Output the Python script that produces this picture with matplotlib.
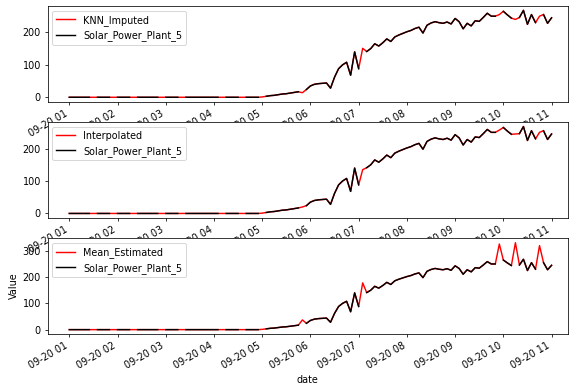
import numpy as np
import pandas as pd
import matplotlib
matplotlib.use("Agg")
import matplotlib.pyplot as plt
import matplotlib.dates as mdates

nan = np.nan

# 5-minute timestamps 09-20 01:00 .. 11:00
start_time = "2020-09-20 01:00"
n_points = 121

# Original series (NaN = missing)
original = [
    0, 0, 0, 0, 0, 0, nan, 0, 0, 0, 0, nan,            # 01:00-01:55
    0, 0, 0, 0, nan, 0, 0, 0, 0, 0, 0, nan,            # 02:00-02:55
    0, 0, 0, 0, nan, 0, 0, 0, 0, 0, 0, 0,              # 03:00-03:55
    0, 0, nan, 0, 0, 0, 0, nan, 0, 0, 0, 0,            # 04:00-04:55
    nan, 3, 5, 6, 8, 10, 11, 13, 15, 17, nan, 24,      # 05:00-05:55
    35, 40, 42, 43, 44, 28, 62, 88, 100, 108, 68, 140, # 06:00-06:55
    88, nan, 141, 150, 165, 158, 168, 180, 172, 186, 192, 197,  # 07:00-07:55
    202, 206, 212, 216, 198, 222, 229, 233, 230, 228, 232, 226, # 08:00-08:55
    243, 233, 211, 228, 220, 236, 234, 246, 259, 250, 250, nan, # 09:00-09:55
    265, 254, 244, nan, 246, 268, 225, 255, 230, nan, 255, 228, # 10:00-10:55
    245,                                                       # 11:00
]

# Values filled in at the missing positions by each method
missing_idx = [6, 11, 16, 23, 28, 38, 43, 48, 58, 73, 107, 111, 117]
knn_fill = [0, 0, 0, 0, 0, 0, 0, 1, 14, 151, 255, 240, 250]
interp_fill = [0, 0, 0, 0, 0, 0, 0, 1, 20, 135, 257, 245, 250]
mean_fill = [0, 0, 0, 0, 0, 0, 0, 1, 37, 178, 326, 331, 320]

method_names = ["KNN_Imputed", "Interpolated", "Mean_Estimated"]
original_name = "Solar_Power_Plant_5"

dates = pd.date_range(start_time, periods=n_points, freq="5min")
orig = np.array(original, dtype=float)


def filled(fill):
    arr = orig.copy()
    arr[missing_idx] = fill
    return arr


imputed = [filled(knn_fill), filled(interp_fill), filled(mean_fill)]

DPI = 69
fig, axes = plt.subplots(3, 1, figsize=(571 / DPI, 387 / DPI), dpi=DPI)
fig.subplots_adjust(left=0.0835, right=0.9947, top=0.9845, bottom=0.137,
                    hspace=0.215)

xmin = pd.Timestamp("2020-09-20 00:33:07")
xmax = pd.Timestamp("2020-09-20 11:20:24")

for ax, name, vals in zip(axes, method_names, imputed):
    ax.plot(dates, vals, color="red", lw=1.5, label=name)
    ax.plot(dates, orig, color="black", lw=1.5, label=original_name)
    ax.legend(loc="upper left")
    ax.xaxis.set_major_locator(mdates.HourLocator())
    ax.xaxis.set_major_formatter(mdates.DateFormatter("%m-%d %H"))
    ax.set_xlim(xmin, xmax)
    for lab in ax.get_xticklabels():
        lab.set_rotation(30)
        lab.set_ha("right")

axes[2].set_ylabel("Value")
axes[2].set_xlabel("date")

fig.savefig("out.png", dpi=DPI)
